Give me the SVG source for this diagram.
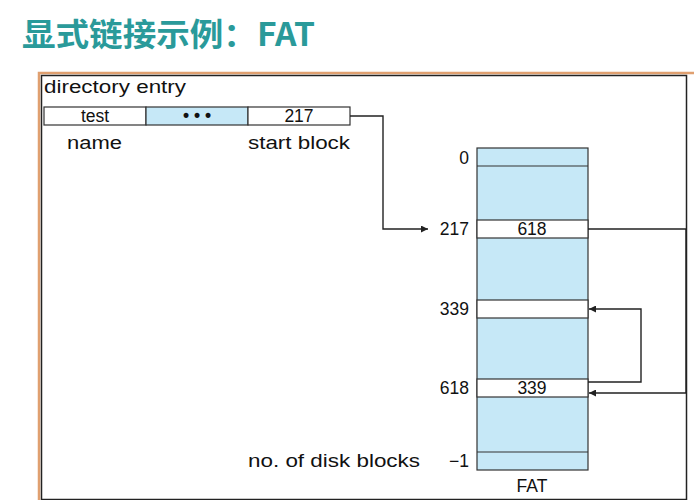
<svg xmlns="http://www.w3.org/2000/svg" width="694" height="500" viewBox="0 0 694 500">
<style>
text{font-family:"Liberation Sans",Arial,sans-serif;fill:#111}
.l{font-size:17.5px}
.c{stroke:#222;stroke-width:1.4;fill:none}
.b{stroke:#333;stroke-width:1.2}
</style>
<defs><marker id="a" viewBox="0 0 10 10" refX="10" refY="5" markerWidth="9" markerHeight="7" orient="auto" markerUnits="userSpaceOnUse"><path d="M0,0L10,5L0,10z" fill="#222"/></marker></defs>
<rect width="694" height="500" fill="#fff"/>
<text x="22" y="46" style="font-family:'Noto Sans CJK SC',sans-serif;font-size:32px;font-weight:bold;fill:#2a9a9a" textLength="293" lengthAdjust="spacingAndGlyphs">显式链接示例：FAT</text>
<rect x="39" y="73" width="660" height="430" fill="none" stroke="#e0a070" stroke-width="2.5"/>
<rect x="41.5" y="75.5" width="645" height="424" fill="none" stroke="#222" stroke-width="1.5"/>
<g id="dir">
<text x="44" y="93" class="l" textLength="142" lengthAdjust="spacingAndGlyphs">directory entry</text>
<rect x="44" y="107" width="102" height="18" fill="#fff" class="b"/>
<rect x="146" y="107" width="102" height="18" fill="#c6e8f7" class="b"/>
<rect x="248" y="107" width="102" height="18" fill="#fff" class="b"/>
<text x="95" y="122" class="l" text-anchor="middle">test</text>
<text x="197" y="121" class="l" text-anchor="middle" font-weight="bold">• • •</text>
<text x="299" y="122" class="l" text-anchor="middle">217</text>
<text x="67" y="149" class="l" textLength="55" lengthAdjust="spacingAndGlyphs">name</text>
<text x="248" y="149" class="l" textLength="102" lengthAdjust="spacingAndGlyphs">start block</text>
</g>
<g id="fat">
<rect x="477" y="148" width="111" height="322" fill="#c6e8f7" class="b"/>
<line x1="477" y1="166" x2="588" y2="166" class="b"/>
<rect x="477" y="220" width="111" height="18" fill="#fff" class="b"/>
<rect x="477" y="300" width="111" height="18" fill="#fff" class="b"/>
<rect x="477" y="379" width="111" height="18" fill="#fff" class="b"/>
<line x1="477" y1="452" x2="588" y2="452" class="b"/>
<text x="532" y="235" class="l" text-anchor="middle">618</text>
<text x="532" y="394" class="l" text-anchor="middle">339</text>
<text x="469" y="164" class="l" text-anchor="end">0</text>
<text x="469" y="235" class="l" text-anchor="end">217</text>
<text x="469" y="315" class="l" text-anchor="end">339</text>
<text x="469" y="394" class="l" text-anchor="end">618</text>
<text x="248" y="467" class="l" textLength="172" lengthAdjust="spacingAndGlyphs">no. of disk blocks</text>
<text x="469" y="467" class="l" text-anchor="end">−1</text>
<text x="532" y="492" class="l" text-anchor="middle">FAT</text>
</g>
<g id="connectors">
<path d="M350,116H383V229H428" class="c" marker-end="url(#a)"/>
<path d="M588,229H686V393H589" class="c" marker-end="url(#a)"/>
<path d="M588,382H641V309H589" class="c" marker-end="url(#a)"/>
</g>
</svg>
